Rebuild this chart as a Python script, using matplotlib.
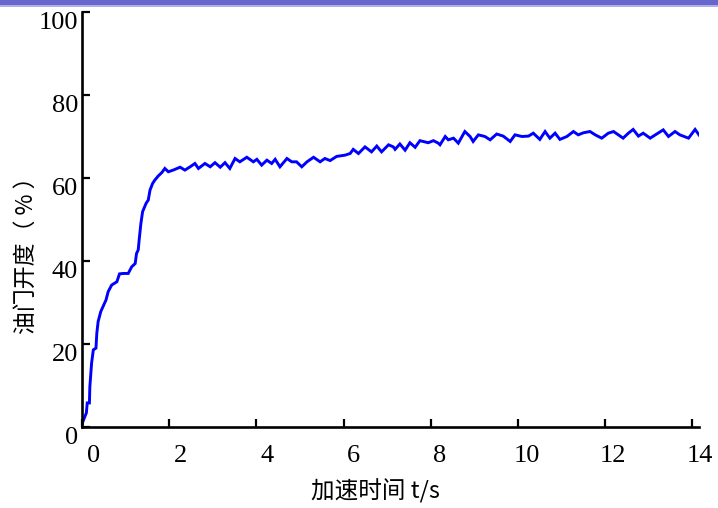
import matplotlib
matplotlib.use("Agg")
import matplotlib.pyplot as plt
from matplotlib.transforms import ScaledTranslation
from matplotlib.patches import Rectangle

# ---- data ----
t = [0.0, 0.02, 0.1, 0.12, 0.17, 0.18, 0.22, 0.26, 0.32, 0.34, 0.37, 0.43, 0.5, 0.55,
     0.6, 0.68, 0.8, 0.86, 0.95, 1.06, 1.14, 1.22, 1.25, 1.29, 1.31, 1.35, 1.39, 1.47,
     1.52, 1.56, 1.62, 1.67, 1.75, 1.83, 1.9, 1.98, 2.09, 2.25, 2.36,
     2.48, 2.59, 2.67, 2.82, 2.94, 3.05, 3.17, 3.28, 3.39, 3.51, 3.62, 3.78, 3.93, 4.01,
     4.12, 4.24, 4.35, 4.43, 4.54, 4.70, 4.81, 4.92, 5.04, 5.16, 5.31, 5.46, 5.57, 5.69,
     5.84, 6.03, 6.15, 6.22, 6.34, 6.49, 6.64, 6.76, 6.87, 7.03, 7.14, 7.18, 7.29, 7.41,
     7.52, 7.64, 7.75, 7.94, 8.06, 8.17,
     8.21, 8.33, 8.40, 8.52, 8.63, 8.78, 8.90, 8.97, 9.09, 9.24, 9.36, 9.51, 9.66, 9.82,
     9.93, 10.09, 10.24, 10.35, 10.50, 10.62, 10.73, 10.85, 10.96, 11.12, 11.27, 11.38,
     11.50, 11.65, 11.77, 11.92, 12.07, 12.19, 12.30, 12.41, 12.53, 12.64, 12.76, 12.87,
     13.03, 13.18, 13.33, 13.45, 13.60, 13.71, 13.91, 14.06, 14.17]
throttle = [0.5, 1.3, 3.4, 5.8, 5.8, 9.7, 15.4, 18.6, 19.0, 22.6, 25.4, 27.8, 29.4, 30.6,
            32.6, 34.2, 35.0, 36.9, 37.0, 37.0, 38.6, 39.4, 41.8, 42.7, 45.0, 49.0, 51.9, 53.9,
            54.7, 57.1, 58.7, 59.5, 60.5, 61.3, 62.3, 61.5, 61.9, 62.6, 61.9,
            62.7, 63.5, 62.3, 63.5, 62.7, 63.7, 62.6, 63.7, 62.3, 64.7, 63.9, 65.0, 63.9, 64.5,
            63.1, 64.3, 63.5, 64.5, 62.7, 64.7, 63.9, 63.9, 62.7, 63.9, 65.0, 63.9, 64.7, 64.2,
            65.2, 65.5, 65.9, 66.9, 65.9, 67.5, 66.3, 67.7, 66.3, 68.0, 67.5, 66.9, 68.2, 66.7,
            68.5, 67.4, 69.0, 68.5, 69.0, 68.4,
            68.0, 70.0, 69.2, 69.6, 68.4, 71.2, 70.0, 68.8, 70.4, 70.0, 69.2, 70.6, 70.1, 68.8,
            70.4, 70.0, 70.1, 70.8, 69.3, 71.2, 69.6, 70.8, 69.3, 70.0, 71.2, 70.4,
            70.9, 71.2, 70.4, 69.6, 70.8, 71.2, 70.4, 69.6, 70.8, 71.7, 70.1, 70.8,
            69.6, 70.6, 71.6, 70.0, 71.2, 70.4, 69.6, 71.7, 70.1]

xticks = [0, 2, 4, 6, 8, 10, 12, 14]
yticks = [0, 20, 40, 60, 80, 100]
xlabel = "加速时间 t/s"
ylabel = "油门开度（ % ）"

plt.rcParams['font.family'] = ['Liberation Serif', 'DejaVu Serif']
cjk = ['Noto Sans CJK SC', 'DejaVu Sans']

W, H, DPI = 718, 508, 100
fig = plt.figure(figsize=(W / DPI, H / DPI), dpi=DPI)

# top band
fig.add_artist(Rectangle((0, 1 - 5 / H), 1, 5 / H, transform=fig.transFigure,
                         facecolor='#6666cc', edgecolor='none'))
fig.add_artist(Rectangle((0, 1 - 6.5 / H), 1, 1.5 / H, transform=fig.transFigure,
                         facecolor='#b4acec', edgecolor='none'))

x0, x1 = 82, 699
y0, y1 = 427, 12
ax = fig.add_axes([x0 / W, (H - y0) / H, (x1 - x0) / W, (y0 - y1) / H])
ax.plot(t, throttle, color='#0000ff', lw=2.1, solid_joinstyle='miter')
ax.set_xlim(0, 14.15)
ax.set_ylim(0, 100)

for s in ['top', 'right']:
    ax.spines[s].set_visible(False)
for s in ['left', 'bottom']:
    ax.spines[s].set_linewidth(1.9)
    ax.spines[s].set_color('black')
ax.spines['left'].set_capstyle('projecting')

ax.set_xticks(xticks)
ax.set_yticks(yticks)
ax.tick_params(direction='in', length=6, width=1.6, labelbottom=False, labelleft=False)

fs = 19
for xv in xticks:
    dx = 11.5 - 0.3 * xv
    tr = ax.get_xaxis_transform() + ScaledTranslation(dx / DPI, -29 / DPI, fig.dpi_scale_trans)
    ax.text(xv, 0, str(xv), transform=tr, ha='center', va='center', fontsize=fs, clip_on=False)
for yv in yticks:
    tr = ax.get_yaxis_transform() + ScaledTranslation(-4 / DPI, -11 / DPI, fig.dpi_scale_trans)
    ax.text(0, yv, str(yv), transform=tr, ha='right', va='center', fontsize=fs, clip_on=False)

fig.text(375 / W, 1 - 491 / H, xlabel, ha='center', va='center', fontsize=17, family=cjk)
fig.text(26 / W, 1 - 250 / H, ylabel, ha='center', va='center', fontsize=16.5,
         rotation=90, family=cjk)

fig.savefig('out.png', dpi=DPI)
